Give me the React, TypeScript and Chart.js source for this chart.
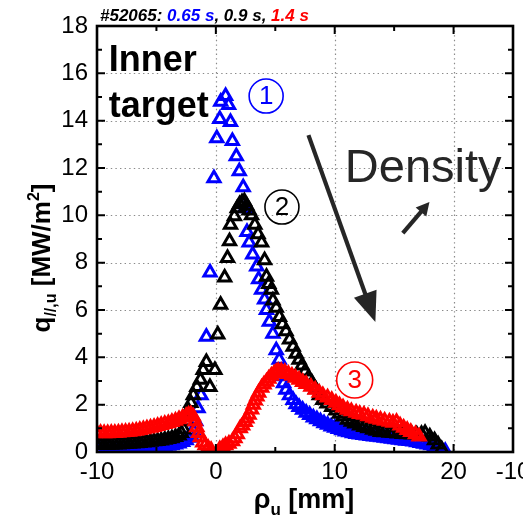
import React, { useEffect, useRef } from "react";
import { Chart, registerables } from "chart.js";

Chart.register(...registerables);

// ---------- data ----------
const shotTitle = ["#52065: ", "0.65 s", ", 0.9 s, ", "1.4 s"];
const seriesNames = ["0.65 s", "0.9 s", "1.4 s"];

const blueX = [
  -10.0, -9.7, -9.4, -9.1, -8.8, -8.5, -8.2, -7.9, -7.6, -7.3, -7.0, -6.7, -6.4, -6.1, -5.8, -5.5, -5.2, -4.9,
  -4.6, -4.3, -4.0, -3.7, -3.4, -3.1, -2.8, -2.5, -2.3, -2.1, -1.9, -1.7, -1.5, -1.25, -0.8, -0.49, -0.16, 0.08,
  0.33, 0.41, 0.82, 1.07, 1.23, 1.39, 1.72, 1.97, 2.3, 2.45, 2.62, 2.8, 3.1, 3.44, 3.6, 3.85, 4.1, 4.26, 4.5,
  4.8, 5.08, 5.33, 5.5, 5.7, 5.9, 6.2, 6.5, 6.75, 7.0, 7.3, 7.6, 7.9, 8.2, 8.5, 8.8, 9.1, 9.4, 9.7, 10.0, 10.3,
  10.6, 10.9, 11.2, 11.5, 11.8, 12.1, 12.4, 12.7, 13.0, 13.3, 13.6, 13.9, 14.2, 14.5, 14.8, 15.1, 15.4, 15.7,
  16.0, 16.3, 16.6, 16.9, 17.2, 17.5, 17.8, 18.1, 18.4, 18.7, 19.0, 19.3,
];
const blueY = [
  0.05, 0.05, 0.05, 0.06, 0.06, 0.07, 0.07, 0.08, 0.08, 0.09, 0.1, 0.11, 0.12, 0.14, 0.15, 0.17, 0.18, 0.2,
  0.22, 0.24, 0.26, 0.29, 0.32, 0.36, 0.42, 0.5, 0.6, 0.72, 0.9, 1.3, 1.85, 2.4, 4.87, 7.58, 11.57, 13.26,
  14.07, 14.8, 15.04, 14.66, 13.94, 13.14, 12.5, 11.86, 11.19, 10.3, 9.3, 8.85, 8.35, 7.84, 7.3, 6.86, 6.44, 6.0, 5.5,
  5.0, 4.3, 3.9, 3.2, 2.9, 2.63, 2.4, 2.2, 2.02, 1.9, 1.78, 1.66, 1.56, 1.46, 1.38, 1.3, 1.22, 1.15, 1.08, 1.02, 0.97,
  0.92, 0.87, 0.83, 0.79, 0.76, 0.74, 0.72, 0.7, 0.68, 0.66, 0.64, 0.62, 0.6, 0.58, 0.56, 0.54, 0.52, 0.5,
  0.48, 0.46, 0.44, 0.41, 0.38, 0.35, 0.32, 0.28, 0.23, 0.17, 0.1, 0.04,
];

const blackX = [
  -10.0, -9.7, -9.4, -9.1, -8.8, -8.5, -8.2, -7.9, -7.6, -7.3, -7.0, -6.7, -6.4, -6.1, -5.8, -5.5, -5.2, -4.9,
  -4.6, -4.3, -4.0, -3.7, -3.4, -3.1, -2.9, -2.7, -2.5, -2.3, -2.1, -1.9, -1.6, -1.3, -1.07, -0.8, -0.5, -0.08,
  0.16, 0.4, 0.74, 0.98, 1.15, 1.23, 1.56, 1.8, 2.0, 2.2, 2.4, 2.6, 2.8, 3.0, 3.28, 3.55, 3.85, 4.1, 4.26, 4.45,
  4.67, 4.8, 5.08, 5.35, 5.6, 5.9, 6.2, 6.5, 6.75, 7.0, 7.25, 7.5, 7.8, 8.1, 8.4, 8.7, 9.0, 9.35, 9.75, 10.1,
  10.4, 10.7, 11.07, 11.4, 11.7, 12.1, 12.46, 12.8, 13.2, 13.5, 13.85, 14.2, 14.6, 14.9, 15.3, 15.7, 16.1, 16.5,
  16.9, 17.3, 17.6, 18.0, 18.4, 18.7, 19.0,
];
const blackY = [
  0.3, 0.3, 0.3, 0.31, 0.31, 0.32, 0.32, 0.33, 0.34, 0.35, 0.36, 0.37, 0.38, 0.4, 0.41, 0.43, 0.45, 0.47,
  0.49, 0.52, 0.55, 0.58, 0.63, 0.7, 0.8, 0.95, 1.3, 1.75, 2.07, 2.4, 2.75, 3.05, 3.47, 3.8, 2.75, 3.47,
  4.96, 6.22, 7.37, 8.2, 8.9, 9.6, 9.96, 10.3, 10.47, 10.55, 10.6, 10.4, 10.2, 10.0, 9.6, 9.2, 8.85, 8.1, 7.4, 7.1,
  6.86, 6.4, 6.1, 5.7, 5.4, 5.1, 4.75, 4.45, 4.15, 3.9, 3.65, 3.4, 3.15, 2.92, 2.65, 2.4, 2.2, 2.05, 1.9, 1.75,
  1.62, 1.5, 1.36, 1.28, 1.2, 1.12, 1.06, 1.0, 0.94, 0.9, 0.85, 0.83, 0.81, 0.8, 0.78, 0.76, 0.75, 0.74,
  0.74, 0.76, 0.8, 0.65, 0.5, 0.32, 0.12,
];

const redX = [
  -10.0, -9.7, -9.4, -9.1, -8.8, -8.5, -8.2, -7.9, -7.6, -7.3, -7.0, -6.7, -6.4, -6.1, -5.8, -5.5, -5.2, -4.9,
  -4.6, -4.3, -4.0, -3.7, -3.4, -3.1, -2.8, -2.5, -2.3, -2.1, -1.9, -1.75, -1.6, -1.45, -1.3, -1.1, -0.9, -0.66,
  -0.4, 0.33, 0.6, 0.82, 1.1, 1.4, 1.6, 1.8, 2.05, 2.25, 2.46, 2.6, 2.79, 3.0, 3.15, 3.3, 3.45, 3.6, 3.85, 4.05,
  4.26, 4.45, 4.67, 4.9, 5.08, 5.25, 5.5, 5.8, 6.1, 6.4, 6.7, 7.0, 7.3, 7.6, 8.0, 8.36, 8.7, 9.0, 9.4, 9.75,
  10.1, 10.4, 10.7, 11.07, 11.4, 11.8, 12.1, 12.46, 12.8, 13.2, 13.5, 13.85, 14.2, 14.6, 14.9, 15.2, 15.5, 15.8,
  16.1, 16.4, 16.8, 17.1,
];
const redY = [
  0.8, 0.8, 0.79, 0.79, 0.8, 0.8, 0.81, 0.83, 0.84, 0.86, 0.88, 0.9, 0.93, 0.96, 0.99, 1.02, 1.06, 1.1,
  1.14, 1.18, 1.22, 1.27, 1.32, 1.38, 1.45, 1.52, 1.57, 1.6, 1.5, 1.3, 1.05, 0.8, 0.62, 0.4, 0.28, 0.18,
  0.08, 0.12, 0.2, 0.28, 0.35, 0.45, 0.58, 0.75, 1.0, 1.12, 1.27, 1.42, 1.57, 1.8, 2.0, 2.18, 2.35, 2.5, 2.72, 2.85,
  2.97, 3.1, 3.22, 3.32, 3.38, 3.42, 3.42, 3.38, 3.3, 3.22, 3.14, 3.05, 2.96, 2.87, 2.76, 2.63, 2.5, 2.4, 2.3, 2.2,
  2.08, 1.98, 1.88, 1.78, 1.72, 1.66, 1.61, 1.57, 1.51, 1.45, 1.4, 1.36, 1.32, 1.28, 1.24, 1.27, 1.12, 1.02,
  0.93, 0.85, 0.75, 0.65,
];

const xTickValues = [-10, 0, 10, 20, 25];
const xTickLabels = ["-10", "0", "10", "20", "-10"];
const yTickValues = [0, 2, 4, 6, 8, 10, 12, 14, 16, 18];
const xGridValues = [0, 10, 20];
const yGridValues = [2, 4, 6, 8, 10, 12, 14, 16];
const xMinorTicks = [-10, -5, 0, 5, 10, 15, 20, 25];
const yMinorTicks = [0, 1, 2, 3, 4, 5, 6, 7, 8, 9, 10, 11, 12, 13, 14, 15, 16, 17, 18];

const FONT = '"Liberation Sans", Arial, Helvetica, sans-serif';
const DARK = "#262626";

type Run = { t: string; f: string; dy: number; c: string };

function drawRuns(ctx: CanvasRenderingContext2D, runs: Run[], x: number, y: number, center: boolean) {
  let w = 0;
  for (const r of runs) {
    ctx.font = r.f;
    w += ctx.measureText(r.t).width;
  }
  let cx = center ? x - w / 2 : x;
  ctx.textAlign = "left";
  ctx.textBaseline = "alphabetic";
  for (const r of runs) {
    ctx.font = r.f;
    ctx.fillStyle = r.c;
    ctx.fillText(r.t, cx, y + r.dy);
    cx += ctx.measureText(r.t).width;
  }
}

function arrow(ctx: CanvasRenderingContext2D, x1: number, y1: number, x2: number, y2: number, head: number, half: number, lw: number) {
  const ang = Math.atan2(y2 - y1, x2 - x1);
  const bx = x2 - Math.cos(ang) * head;
  const by = y2 - Math.sin(ang) * head;
  ctx.strokeStyle = DARK;
  ctx.fillStyle = DARK;
  ctx.lineWidth = lw;
  ctx.lineCap = "butt";
  ctx.beginPath();
  ctx.moveTo(x1, y1);
  ctx.lineTo(bx + Math.cos(ang) * 2, by + Math.sin(ang) * 2);
  ctx.stroke();
  ctx.beginPath();
  ctx.moveTo(x2, y2);
  ctx.lineTo(bx + Math.sin(ang) * half, by - Math.cos(ang) * half);
  ctx.lineTo(bx - Math.sin(ang) * half, by + Math.cos(ang) * half);
  ctx.closePath();
  ctx.fill();
}

function circled(ctx: CanvasRenderingContext2D, cx: number, cy: number, r: number, txt: string, color: string) {
  ctx.strokeStyle = color;
  ctx.lineWidth = 1.6;
  ctx.beginPath();
  ctx.arc(cx, cy, r, 0, Math.PI * 2);
  ctx.stroke();
  ctx.fillStyle = color;
  ctx.font = `26px ${FONT}`;
  ctx.textAlign = "center";
  ctx.textBaseline = "middle";
  ctx.fillText(txt, cx, cy + 1);
}

const overlay = {
  id: "overlay",
  beforeDatasetsDraw(chart: any) {
    const { ctx, chartArea: a } = chart;
    const xs = chart.scales.x;
    const ys = chart.scales.y;
    ctx.save();
    ctx.strokeStyle = "#8a8a8a";
    ctx.lineWidth = 1.2;
    ctx.setLineDash([1.4, 3.2]);
    for (const v of xGridValues) {
      const p = Math.round(xs.getPixelForValue(v)) + 0.5;
      ctx.beginPath();
      ctx.moveTo(p, a.top);
      ctx.lineTo(p, a.bottom);
      ctx.stroke();
    }
    for (const v of yGridValues) {
      const p = Math.round(ys.getPixelForValue(v)) + 0.5;
      ctx.beginPath();
      ctx.moveTo(a.left, p);
      ctx.lineTo(a.right, p);
      ctx.stroke();
    }
    ctx.restore();
  },
  afterDraw(chart: any) {
    const { ctx, chartArea: a } = chart;
    const xs = chart.scales.x;
    const ys = chart.scales.y;
    const X = (v: number) => xs.getPixelForValue(v);
    const Y = (v: number) => ys.getPixelForValue(v);
    ctx.save();
    ctx.setLineDash([]);
    // inward ticks
    ctx.strokeStyle = "#000";
    ctx.lineWidth = 2;
    for (const v of xMinorTicks) {
      const p = X(v);
      const len = v % 10 === 0 ? 8 : 5;
      ctx.beginPath();
      ctx.moveTo(p, a.bottom);
      ctx.lineTo(p, a.bottom - len);
      ctx.moveTo(p, a.top);
      ctx.lineTo(p, a.top + len);
      ctx.stroke();
    }
    for (const v of yMinorTicks) {
      const p = Y(v);
      const len = v % 2 === 0 ? 8 : 5;
      ctx.beginPath();
      ctx.moveTo(a.left, p);
      ctx.lineTo(a.left + len, p);
      ctx.moveTo(a.right, p);
      ctx.lineTo(a.right - len, p);
      ctx.stroke();
    }
    // frame
    ctx.lineWidth = 2.6;
    ctx.strokeRect(a.left, a.top, a.right - a.left, a.bottom - a.top);

    // title
    const tf = `italic bold 17px ${FONT}`;
    drawRuns(
      ctx,
      [
        { t: shotTitle[0], f: tf, dy: 0, c: "#000" },
        { t: shotTitle[1], f: tf, dy: 0, c: "#0000ff" },
        { t: shotTitle[2], f: tf, dy: 0, c: "#000" },
        { t: shotTitle[3], f: tf, dy: 0, c: "#ff0000" },
      ],
      a.left + 3,
      a.top - 5,
      false
    );

    // text annotations
    ctx.fillStyle = "#000";
    ctx.font = `bold 36px ${FONT}`;
    ctx.textAlign = "left";
    ctx.textBaseline = "alphabetic";
    ctx.fillText("Inner", X(-9.01), Y(16.1));
    ctx.fillText("target", X(-9.01), Y(14.15));

    circled(ctx, X(4.23), Y(15.04), 17, "1", "#0000ff");
    circled(ctx, X(5.56), Y(10.35), 17, "2", "#000");
    circled(ctx, X(11.68), Y(3.04), 18, "3", "#ff0000");

    ctx.fillStyle = DARK;
    ctx.font = `47px ${FONT}`;
    ctx.textAlign = "left";
    ctx.textBaseline = "alphabetic";
    ctx.fillText("Density", X(10.85), Y(11.41));

    arrow(ctx, X(7.79), Y(13.39), X(13.42), Y(5.49), 30, 12, 4.2);
    arrow(ctx, X(15.73), Y(9.25), X(17.97), Y(10.56), 13, 7, 4.2);

    // x axis title
    drawRuns(
      ctx,
      [
        { t: "\u03c1", f: `bold 27px ${FONT}`, dy: 0, c: "#000" },
        { t: "u", f: `bold 17px ${FONT}`, dy: 7, c: "#000" },
        { t: " [mm]", f: `bold 27px ${FONT}`, dy: 0, c: "#000" },
      ],
      (a.left + a.right) / 2 - 1,
      508,
      true
    );

    // y axis title
    ctx.translate(50, 258);
    ctx.rotate(-Math.PI / 2);
    drawRuns(
      ctx,
      [
        { t: "q", f: `bold 26px ${FONT}`, dy: 0, c: "#000" },
        { t: "//,u", f: `bold 16px ${FONT}`, dy: 6, c: "#000" },
        { t: " [MW/m", f: `bold 26px ${FONT}`, dy: 0, c: "#000" },
        { t: "2", f: `bold 16px ${FONT}`, dy: -11, c: "#000" },
        { t: "]", f: `bold 26px ${FONT}`, dy: 0, c: "#000" },
      ],
      0,
      0,
      true
    );
    ctx.restore();
  },
};

function makeData(xs: number[], ys: number[]) {
  return xs.map((x, i) => ({ x, y: ys[i] }));
}

export default function App() {
  const ref = useRef<HTMLCanvasElement | null>(null);
  useEffect(() => {
    if (!ref.current) return;
    const common = {
      showLine: false,
      pointStyle: "triangle",
      pointRadius: 7,
      pointHoverRadius: 7,
      pointBorderWidth: 3,
      backgroundColor: "rgba(0,0,0,0)",
    };
    const chart = new Chart(ref.current, {
      type: "scatter",
      data: {
        datasets: [
          { ...common, label: seriesNames[2], data: makeData(redX, redY), borderColor: "#ff0000", order: 0 },
          { ...common, label: seriesNames[1], data: makeData(blackX, blackY), borderColor: "#000000", order: 1 },
          { ...common, label: seriesNames[0], data: makeData(blueX, blueY), borderColor: "#0000ff", order: 2 },
        ],
      } as any,
      options: {
        responsive: false,
        animation: false,
        events: [],
        layout: { padding: { left: 0, right: 3, top: 26, bottom: 0 } },
        plugins: { legend: { display: false }, tooltip: { enabled: false }, title: { display: false } },
        scales: {
          x: {
            type: "linear",
            min: -10,
            max: 25,
            grid: { display: false, drawTicks: false },
            border: { display: false },
            afterBuildTicks: (s: any) => {
              s.ticks = xTickValues.map((v) => ({ value: v }));
            },
            afterFit: (s: any) => {
              s.height = 70;
              s.paddingLeft = 0;
              s.paddingRight = 0;
            },
            ticks: {
              autoSkip: false,
              maxRotation: 0,
              minRotation: 0,
              padding: 6,
              color: "#000",
              font: { family: FONT, size: 24 },
              callback: (v: any) => {
                const i = xTickValues.indexOf(Number(v));
                return i >= 0 ? xTickLabels[i] : "";
              },
            },
          },
          y: {
            type: "linear",
            min: 0,
            max: 18,
            grid: { display: false, drawTicks: false },
            border: { display: false },
            afterBuildTicks: (s: any) => {
              s.ticks = yTickValues.map((v) => ({ value: v }));
            },
            afterFit: (s: any) => {
              s.width = 97;
              s.paddingTop = 0;
              s.paddingBottom = 0;
            },
            ticks: {
              autoSkip: false,
              padding: 9,
              color: "#000",
              font: { family: FONT, size: 24 },
              callback: (v: any) => String(v),
            },
          },
        },
      } as any,
      plugins: [overlay],
    });
    return () => chart.destroy();
  }, []);
  return (
    <div style={{ position: "fixed", left: 0, top: 0, width: 523, height: 522, background: "#fff" }}>
      <canvas ref={ref} width={523} height={522} style={{ display: "block" }} />
    </div>
  );
}
